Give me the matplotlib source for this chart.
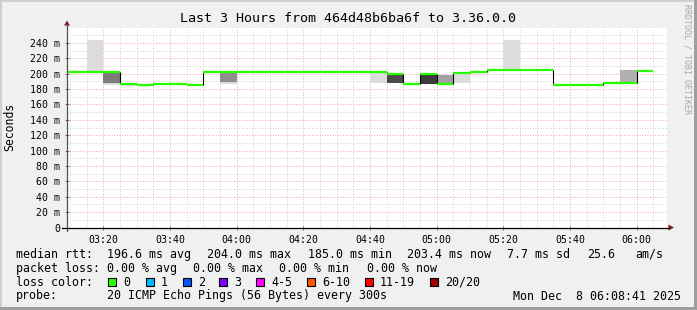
import matplotlib
matplotlib.use('Agg')
import matplotlib.pyplot as plt
from matplotlib.patches import Rectangle, Polygon
from matplotlib.lines import Line2D
import numpy as np

# ---------------- data ----------------
interval_start = ["03:05", "03:10", "03:15", "03:20", "03:25", "03:30", "03:35", "03:40",
                  "03:45", "03:50", "03:55", "04:00", "04:05", "04:10", "04:15", "04:20",
                  "04:25", "04:30", "04:35", "04:40", "04:45", "04:50", "04:55", "05:00",
                  "05:05", "05:10", "05:15", "05:20", "05:25", "05:30", "05:35", "05:40",
                  "05:45", "05:50", "05:55", "06:00"]
median_ms = [202.0, 202.0, 202.0, 202.0, 186.6, 185.3, 187.0, 187.0,
             185.7, 202.2, 202.0, 202.0, 202.0, 202.0, 202.0, 202.0,
             202.0, 202.0, 202.0, 202.0, 199.2, 187.0, 199.2, 187.0,
             201.3, 201.8, 205.2, 205.2, 205.2, 205.2, 185.3, 185.3,
             185.3, 188.3, 188.0, 203.6]
nan = np.nan
light_lo = [nan, nan, 201.0, 185.0, 183.5, nan, nan, nan,
            nan, nan, 187.0, nan, nan, nan, nan, nan,
            nan, nan, nan, 188.0, nan, nan, nan, nan,
            187.5, nan, nan, 206.0, nan, nan, nan, nan,
            nan, nan, 186.5, nan]
light_hi = [nan, nan, 244.0, 202.0, 186.6, nan, nan, nan,
            nan, nan, 202.0, nan, nan, nan, nan, nan,
            nan, nan, nan, 201.0, nan, nan, nan, nan,
            200.0, nan, nan, 244.0, nan, nan, nan, nan,
            nan, nan, 188.0, nan]
core_lo = [nan, nan, nan, 188.0, nan, nan, nan, nan,
           nan, nan, 188.6, nan, nan, nan, nan, nan,
           nan, nan, nan, nan, 187.5, nan, 187.0, 187.0,
           nan, 202.0, nan, nan, nan, nan, nan, nan,
           nan, 188.3, 188.0, nan]
core_hi = [nan, nan, nan, 202.0, nan, nan, nan, nan,
           nan, nan, 202.0, nan, nan, nan, nan, nan,
           nan, nan, nan, nan, 198.3, nan, 198.0, 198.0,
           nan, 203.5, nan, nan, nan, nan, nan, nan,
           nan, 189.6, 204.5, nan]
core_gray = ['none', 'none', 'none', '#7c7c7c', 'none', 'none', 'none', 'none',
             'none', 'none', '#8e8e8e', 'none', 'none', 'none', 'none', 'none',
             'none', 'none', 'none', 'none', '#4a4a4a', 'none', '#3c3c3c', '#a2a2a2',
             'none', '#404040', 'none', 'none', 'none', 'none', 'none', 'none',
             'none', '#404040', '#b0b0b0', 'none']

x_tick_labels = ["03:20", "03:40", "04:00", "04:20", "04:40", "05:00", "05:20", "05:40", "06:00"]
y_tick_values = [0, 20, 40, 60, 80, 100, 120, 140, 160, 180, 200, 220, 240]
y_tick_labels = ["0", "20 m", "40 m", "60 m", "80 m", "100 m", "120 m", "140 m",
                 "160 m", "180 m", "200 m", "220 m", "240 m"]

loss_labels = ["0", "1", "2", "3", "4-5", "6-10", "11-19", "20/20"]
loss_colors = ["#26ff00", "#00b8ff", "#0059ff", "#7e00ff", "#ff00ff", "#ff5500", "#ff0000", "#a10000"]

title = "Last 3 Hours from 464d48b6ba6f to 3.36.0.0"

# ---------------- helpers ----------------
W, H, DPI = 697, 310, 100
MONO = "DejaVu Sans Mono"


def tmin(s):
    h, m = s.split(":")
    return (int(h) - 3) * 60 + int(m)


starts = np.array([tmin(s) for s in interval_start], dtype=float)
STEP = 5.0

fig = plt.figure(figsize=(W / DPI, H / DPI), dpi=DPI)
fig.patch.set_facecolor('#F0F0F0')

# plot canvas in pixels
PX_L, PX_R, PX_T, PX_B = 67, 667, 28, 227.5
ax = fig.add_axes([PX_L / W, 1 - PX_B / H, (PX_R - PX_L) / W, (PX_B - PX_T) / H])
ax.set_facecolor('white')
ax.set_xlim(9.11, 189.11)
ax.set_ylim(0, (PX_B - PX_T) / 0.769)
for s in ax.spines.values():
    s.set_visible(False)

# grid (below smoke)
minor_kw = dict(color='#d2d2d2', lw=0.72, dashes=(1, 1.6), zorder=0.5)
major_kw = dict(color='#f4aaaa', lw=0.72, dashes=(1, 1.6), zorder=0.6)
for v in np.arange(10, 260, 10):
    if v % 20:
        ax.axhline(v, **minor_kw)
for v in y_tick_values[1:]:
    ax.axhline(v, **major_kw)
xt = [tmin(s) for s in x_tick_labels]
for t in np.arange(10, 190, 5):
    if t not in xt:
        ax.axvline(t, **minor_kw)
for t in xt:
    ax.axvline(t, **major_kw)

# smoke
ll = np.array(light_lo); lh = np.array(light_hi)
ax.bar(starts, lh - ll, bottom=ll, width=STEP, align='edge', color='#dcdcdc',
       linewidth=0, zorder=1)
cl = np.array(core_lo); ch = np.array(core_hi)
for i in range(len(starts)):
    if core_gray[i] != 'none':
        ax.bar(starts[i], ch[i] - cl[i], bottom=cl[i], width=STEP, align='edge',
               color=core_gray[i], linewidth=0, zorder=1.5)

# median line
med = np.array(median_ms)
for i in range(1, len(starts)):
    if med[i] != med[i - 1]:
        ax.vlines(starts[i], min(med[i], med[i - 1]), max(med[i], med[i - 1]),
                  color='black', lw=0.8, zorder=3)
ax.hlines(med, starts, starts + STEP, color='#26ff00', lw=1.6, zorder=4)

# ticks / labels
ax.set_yticks(y_tick_values)
ax.set_yticklabels(y_tick_labels, fontfamily=MONO, fontsize=7.1)
ax.set_xticks(xt)
ax.set_xticklabels(x_tick_labels, fontfamily=MONO, fontsize=7.1)
ax.tick_params(axis='y', length=3, width=0.7, direction='inout', color='#666666', pad=3.5)
ax.tick_params(axis='x', length=3, width=0.7, direction='inout', color='#666666', pad=4)


# axis lines & arrows (figure pixel coords)
def fx(x):
    return x / W


def fy(y):
    return 1 - y / H


fig.add_artist(Line2D([fx(67), fx(67)], [fy(231), fy(24)], color='#505050', lw=0.9))
fig.add_artist(Line2D([fx(62), fx(669)], [fy(227.5), fy(227.5)], color='black', lw=0.9))
fig.add_artist(Polygon([[fx(64), fy(25.5)], [fx(70), fy(25.5)], [fx(67), fy(20.5)]],
                       closed=True, color='#8b1a1a', lw=0))
fig.add_artist(Polygon([[fx(668.5), fy(224.5)], [fx(668.5), fy(230.5)], [fx(674), fy(227.5)]],
                       closed=True, color='#8b1a1a', lw=0))

# texts
fig.text(fx(347.5), fy(19), title, fontfamily=MONO, fontsize=9.6, ha='center', va='center')
fig.text(fx(10), fy(127), "Seconds", fontfamily=MONO, fontsize=8.3, rotation=90,
         ha='center', va='center')
fig.text(fx(687), fy(4), "RRDTOOL / TOBI OETIKER", fontfamily=MONO, fontsize=6,
         rotation=-90, ha='center', va='top', color='#a8a8a8')

LFS = 8.35
rows = [
    (254.3, [(16, "median rtt:"), (107.3, "196.6 ms avg"), (207.3, "204.0 ms max"),
             (308.3, "185.0 ms min"), (407.3, "203.4 ms now"), (506.7, "7.7 ms sd"),
             (586.7, "25.6"), (635, "am/s")]),
    (268.3, [(16, "packet loss:"), (107.3, "0.00 % avg"), (193.3, "0.00 % max"),
             (279.3, "0.00 % min"), (366.7, "0.00 % now")]),
    (296.0, [(16, "probe:"), (107.3, "20 ICMP Echo Pings (56 Bytes) every 300s"),
             (512.7, "Mon Dec  8 06:08:41 2025")]),
]
for y, items in rows:
    for x, s in items:
        fig.text(fx(x), fy(y), s, fontfamily=MONO, fontsize=LFS, ha='left', va='center')

fig.text(fx(16), fy(282.3), "loss color:", fontfamily=MONO, fontsize=LFS, ha='left', va='center')
box_x = [108.3, 145.7, 182.7, 219.3, 256, 307.3, 365, 430]
for bx, lab, col in zip(box_x, loss_labels, loss_colors):
    fig.add_artist(Rectangle((fx(bx), fy(286)), 8 / W, 8 / H, facecolor=col,
                             edgecolor='black', lw=0.8))
    fig.text(fx(bx + 15), fy(282.3), lab, fontfamily=MONO, fontsize=LFS, ha='left', va='center')

# 3D frame
fig.add_artist(Rectangle((0, 1 - 2 / H), 1, 2 / H, facecolor='#CFCFCF', lw=0))
fig.add_artist(Rectangle((0, 0), 2 / W, 1, facecolor='#CFCFCF', lw=0))
fig.add_artist(Rectangle((0, 0), 1, 3 / H, facecolor='#9E9E9E', lw=0))
fig.add_artist(Rectangle((1 - 3 / W, 0), 3 / W, 1, facecolor='#9E9E9E', lw=0))

fig.savefig('out.png', dpi=DPI)
